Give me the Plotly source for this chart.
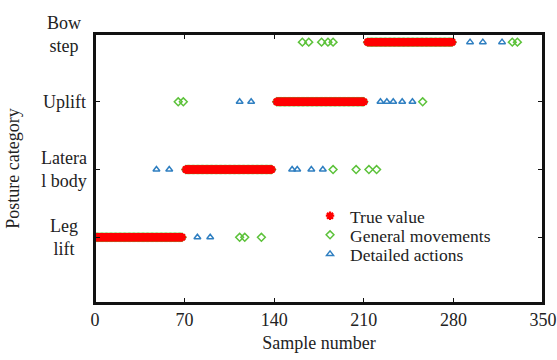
import plotly.graph_objects as go

# ---- data ----
categories = ["Leg<br>lift", "Latera<br>l body", "Uplift", "Bow<br>step"]
cat_y = [1, 2, 3, 3.88]          # row positions of points
tick_y = [1, 2, 3, 4]            # row positions of labels

# true-value runs of consecutive sample numbers, per category
true_start = [1, 71, 142, 213]
true_end = [68, 138, 210, 279]

# misclassified samples (sample number) shown on other rows
general_extra = {
    0: [113, 117, 130],
    1: [186, 204, 214, 220],
    2: [65, 69, 256],
    3: [162, 167, 177, 182, 186, 326, 330],
}
detailed_extra = {
    0: [80, 90],
    1: [48, 58, 154, 158, 169, 178],
    2: [113, 122, 223, 228, 233, 240, 248],
    3: [293, 303, 318],
}

font = dict(family="Liberation Serif", size=18, color="#222")
legfont = dict(family="Liberation Serif", size=17.5, color="#222")

def build(extra):
    xs, ys = [], []
    for i, (s, e) in enumerate(zip(true_start, true_end)):
        for n in range(s, e + 1):
            xs.append(n); ys.append(cat_y[i])
        for n in extra.get(i, []):
            xs.append(n); ys.append(cat_y[i])
    return xs, ys

tx, ty = build({})
gx, gy = build(general_extra)
dx, dy = build(detailed_extra)

fig = go.Figure()
fig.add_trace(go.Scatter(x=dx, y=dy, mode="markers", name="Detailed actions",
                         legend="legend3",
                         marker=dict(symbol="triangle-up-open", size=6, color="#2f7fc1",
                                     line=dict(width=1.5, color="#2f7fc1"))))
fig.add_trace(go.Scatter(x=gx, y=gy, mode="markers", name="General movements",
                         legend="legend2",
                         marker=dict(symbol="diamond-open", size=6, color="#5cc23a",
                                     line=dict(width=1.5, color="#5cc23a"))))
fig.add_trace(go.Scatter(x=tx, y=ty, mode="markers", name="True value",
                         legend="legend",
                         marker=dict(symbol="asterisk-open", size=7, color="#ff0000",
                                     line=dict(width=2.2, color="#ff0000"))))

leg = dict(x=0.48, xanchor="left", yanchor="top", bgcolor="rgba(0,0,0,0)",
           font=legfont, itemwidth=30)

fig.update_layout(
    width=557, height=360,
    margin=dict(l=95, r=14, t=34, b=57),
    plot_bgcolor="white", paper_bgcolor="white",
    font=font,
    showlegend=True,
    legend=dict(leg, y=0.391),
    legend2=dict(leg, y=0.320),
    legend3=dict(leg, y=0.249),
    xaxis=dict(range=[0, 350], tickvals=[0, 70, 140, 210, 280, 350],
               showline=True, linecolor="#111", linewidth=1.5, mirror="allticks",
               ticks="inside", ticklen=5, tickcolor="#111", showgrid=False,
               zeroline=False, tickfont=font, automargin=False,
               title=dict(text="Sample number", font=font, standoff=7)),
    yaxis=dict(range=[0.03, 4.0], tickvals=tick_y, ticktext=[""] * 4,
               showline=True, linecolor="#111", linewidth=1.5, mirror="allticks",
               ticks="inside", ticklen=5, tickcolor="#111", showgrid=False,
               zeroline=False, tickfont=font, automargin=False,
               title=dict(text="Posture category", font=font, standoff=65)),
    shapes=[dict(type="rect", xref="paper", yref="paper", x0=0, x1=1, y0=0, y1=1,
                 line=dict(color="#111", width=2), fillcolor="rgba(0,0,0,0)",
                 layer="above")],
)

for lab, yv in zip(categories, tick_y):
    fig.add_annotation(x=-0.069, y=yv, xref="paper", yref="y", text=lab,
                       showarrow=False, xanchor="center", yanchor="middle",
                       align="center", font=font)

fig.write_html("out.html", config={"displayModeBar": False},
               post_script="document.body.style.margin='0';document.body.style.overflow='hidden';")
